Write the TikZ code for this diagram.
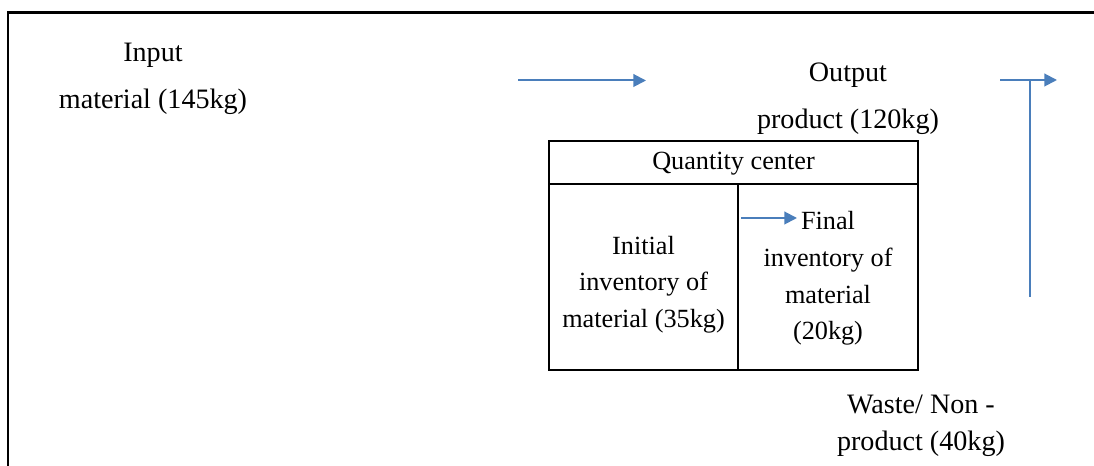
\documentclass[tikz,border=0pt]{standalone}
\usepackage{fontspec}
\setmainfont{Liberation Serif}
\usetikzlibrary{arrows.meta}
\definecolor{flowblue}{RGB}{74,126,187}
\begin{document}
\begin{tikzpicture}[x=0.015cm,y=-0.015cm,
    lbl/.style={align=center,inner sep=0pt,font=\fontsize{12}{20}\selectfont},
    cell/.style={align=center,inner sep=0pt,font=\fontsize{11.2}{15.6}\selectfont},
    flowline/.style={draw=flowblue,line width=0.85pt},
    flow/.style={flowline,-{Triangle[length=5.4pt,width=5.4pt]}}]
      \useasboundingbox (0,0) rectangle (1094,466);
      \draw[line width=1.1pt] (1094,12.5) -- (8,12.5) -- (8,466);
      % quantity center box
      \draw[line width=0.85pt] (549,141) rectangle (918,370);
      \draw[line width=0.85pt] (549,184) -- (918,184);
      \draw[line width=0.85pt] (738,184) -- (738,370);
      \node[cell] (head) at (733.5,163.5) {Quantity center};
      \node[cell] (initial) at (643.5,284.5) {Initial\\inventory of\\material (35kg)};
      \node[cell] (final) at (828,278.5) {Final\\inventory of\\material\\(20kg)};
      % flows
      \node[lbl] (input) at (153,79) {Input\\material (145kg)};
      \node[lbl] (output) at (848,98.5) {Output\\product (120kg)};
      \node[lbl,font=\fontsize{12}{16}\selectfont] (waste) at (921,426) {Waste/ Non -\\product (40kg)};
      \coordinate (inA) at (518,80.5); \coordinate (inB) at (646,80.5);
      \draw[flow] (inA) -- (inB);
      \coordinate (outA) at (1000,80); \coordinate (outB) at (1057,80);
      \coordinate (outJ) at (1030,80); \coordinate (outD) at (1030,297);
      \draw[flow] (outA) -- (outB);
      \draw[flowline] (outJ) -- (outD);
      \coordinate (finA) at (741,218); \coordinate (finB) at (797,218);
      \draw[flow] (finA) -- (finB);
\end{tikzpicture}
\end{document}
